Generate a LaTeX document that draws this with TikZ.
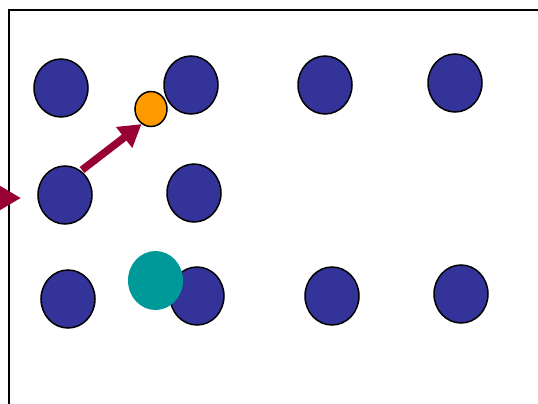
\documentclass[tikz,border=0pt]{standalone}
\usepackage{tikz}
\usepackage{xcolor}
\usetikzlibrary{arrows.meta}
\usetikzlibrary{shapes.geometric}
\definecolor{siteblue}{HTML}{333399}
\definecolor{walkorange}{HTML}{FF9900}
\definecolor{hopteal}{HTML}{009999}
\definecolor{movered}{HTML}{990033}

\begin{document}
\begin{tikzpicture}[x=1pt,y=-1pt]
	\useasboundingbox (0,0) rectangle (538,404);
	\clip (0,0) rectangle (538,404);
	\draw[line width=1.6pt] (9,404) -- (9,10) -- (540,10);
	
	\tikzstyle{every node}=[ellipse, inner sep=0pt, minimum width=54pt, minimum height=58pt, fill=siteblue, draw, line width=1.5pt]
	\node (a1) at (61,88) {};
	\node (a2) at (191,85) {};
	\node (a3) at (325,85) {};
	\node (a4) at (455,83) {};
	\node (b1) at (65,195) {};
	\node (b2) at (194,193) {};
	\node (c1) at (68,299) {};
	\node (c2) at (197,296) {};
	\node (c3) at (332,296) {};
	\node (c4) at (461,294) {};
	
	\tikzstyle{every node}=[]
	
	\node[ellipse, inner sep=0pt, minimum width=55pt, minimum height=59pt, fill=hopteal] (t) at (155.5,280.5) {};
	\node[ellipse, inner sep=0pt, minimum width=32pt, minimum height=35pt, fill=walkorange, draw, line width=1.5pt] (o) at (151,109) {};
	
	\coordinate (s) at (82,170);
	\coordinate (in) at (-40,198);
	\coordinate (inend) at (21,198);
	\draw[movered, line width=7.5pt, -{Triangle[length=22pt, width=25pt]}] (s) -- (o.238);
	\draw[movered, line width=7.5pt, -{Triangle[length=24pt, width=26pt]}] (in) -- (inend);
\end{tikzpicture}
\end{document}
